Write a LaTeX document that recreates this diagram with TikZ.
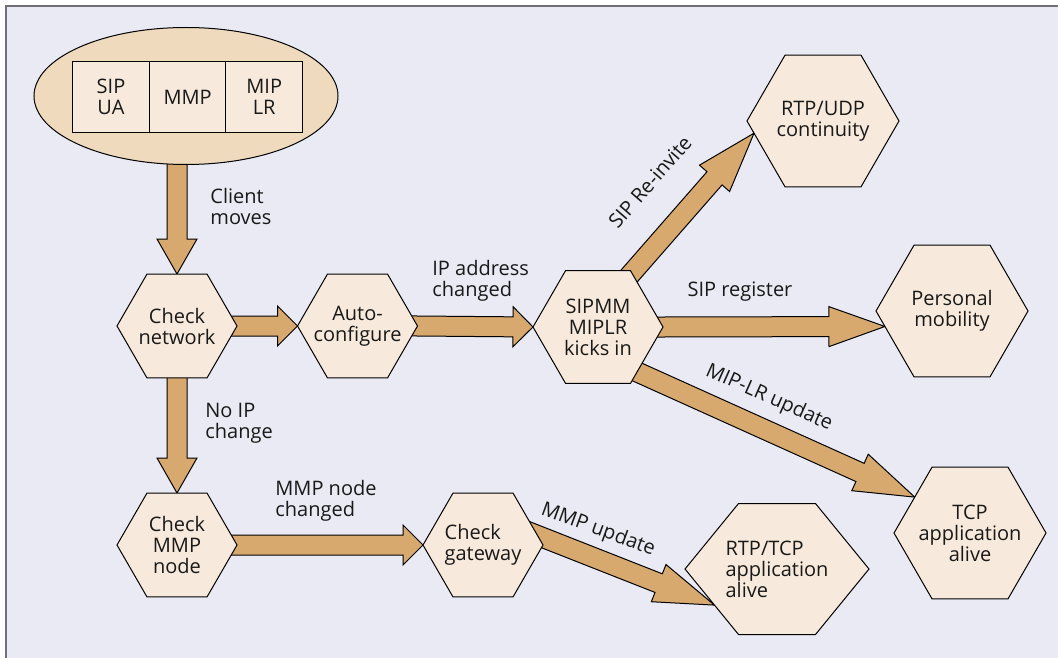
\documentclass[tikz,border=0pt]{standalone}
\usepackage{fontspec}
\setmainfont{Open Sans}
\usepackage{tikz}
\usetikzlibrary{shapes,shapes.geometric,shapes.symbols,calc,backgrounds,positioning}

\definecolor{panelbg}{RGB}{233,234,243}
\definecolor{framegray}{RGB}{112,112,118}
\definecolor{arrowtan}{RGB}{215,169,111}
\definecolor{hexfill}{RGB}{247,234,220}
\definecolor{ovalfill}{RGB}{240,218,190}

\tikzset{
	hexnode/.style={signal,signal to=east and west,signal pointer angle=120,draw=black,line width=0.5pt,fill=hexfill,inner xsep=-40pt,inner ysep=-30pt,outer sep=0pt,align=center},
	hexS/.style={minimum width=60pt,minimum height=51.96pt},
	hexM/.style={minimum width=65pt,minimum height=56.3pt},
	hexL/.style={minimum width=76pt,minimum height=65.8pt},
	cellnode/.style={rectangle,draw=black,line width=0.5pt,fill=hexfill,minimum width=38.3pt,minimum height=35pt,inner sep=0pt,outer sep=0pt,align=center},
	arrowbody/.style={draw=black,line width=0.5pt,fill=arrowtan,line join=miter},
	lbl/.style={inner sep=0pt,align=left}
}

\newcommand{\fatarrow}[3][10pt]{%
	\coordinate (ba-s) at ($(#2)!-6pt!(#3)$);
	\coordinate (ba-e) at (#3);
	\coordinate (ba-h) at ($(ba-e)!#1!(ba-s)$);
	\draw[arrowbody] ($(ba-s)!5pt!90:(ba-e)$) -- ($(ba-h)!5pt!-90:(ba-s)$) -- ($(ba-h)!10pt!-90:(ba-s)$) -- (ba-e)
		-- ($(ba-h)!10pt!90:(ba-s)$) -- ($(ba-h)!5pt!90:(ba-s)$) -- ($(ba-s)!5pt!-90:(ba-e)$) -- cycle;
}

\begin{document}
\begin{tikzpicture}[x=0.5pt,y=-0.5pt,font=\fontsize{10}{10.5}\selectfont,text=black!90]
		\useasboundingbox (0,0) rectangle (1058,658);
		\begin{pgfonlayer}{background}
			\fill[panelbg] (6,6) rectangle (1058,658);
			\draw[framegray,line width=1pt] (6,658) -- (6,6) -- (1058,6);
		\end{pgfonlayer}

		\node[ellipse,draw=black,line width=0.5pt,fill=ovalfill,minimum width=152pt,minimum height=68.5pt] (ue) at (186,96) {};
		\node[cellnode] (sipua) at (111,97) {SIP\\UA};
		\node[cellnode,right=0pt of sipua] (mmpcell) {MMP};
		\node[cellnode,right=0pt of mmpcell] (miplr) {MIP\\LR};

		\node[hexnode,hexS] (chknet) at (177,326) {Check\\network};
		\node[hexnode,hexS] (autocfg) at (357.5,326) {Auto-\\configure};
		\node[hexnode,hexM] (sipmm) at (598,327) {SIPMM\\MIPLR\\kicks in};
		\node[hexnode,hexL] (rtpudp) at (823,121) {RTP/UDP\\continuity};
		\node[hexnode,hexL] (personal) at (952,311) {Personal\\mobility};
		\node[hexnode,hexL] (tcpalive) at (970,533) {TCP\\application\\alive};
		\node[hexnode,hexS] (chkmmp) at (177,545) {Check\\MMP\\node};
		\node[hexnode,hexS,align=left] (chkgw) at (483,545) {Check\\gateway};
		\node[hexnode,minimum width=92pt,minimum height=65.5pt,signal pointer angle=101.5,align=left] (rtptcp) at (777,569) {RTP/TCP\\application\\alive};

		\coordinate (uefoot) at (chknet.north |- ue.south);
		\begin{pgfonlayer}{background}
			\fatarrow[17.5pt]{uefoot}{chknet.north}
			\fatarrow{chknet.east}{autocfg.west}
			\fatarrow{autocfg.east}{sipmm.west}
			\fatarrow[17.5pt]{chknet.south}{chkmmp.north}
			\fatarrow{chkmmp.east}{chkgw.west}
			\fatarrow[30pt]{sipmm.58}{rtpudp.190}
			\fatarrow[28pt]{sipmm.east}{personal.193}
			\fatarrow[30pt]{sipmm.-49}{tcpalive.147}
			\fatarrow[30pt]{chkgw.10}{rtptcp.210}
		\end{pgfonlayer}

		\node[lbl,anchor=west] (lclient) at (210,206) {Client\\moves};
		\node[lbl,anchor=west] (lnoip) at (205,423) {No IP\\change};
		\node[lbl,anchor=west] (lipchg) at (432,281) {IP address\\changed};
		\node[lbl,anchor=west] (lmmpchg) at (275,501) {MMP node\\changed};
		\node[lbl] (lsipreg) at (740,292) {SIP register};
		\node[lbl,rotate=49] (lreinv) at (650,182) {SIP Re-invite};
		\node[lbl,rotate=-24] (lmiplr) at (769,398) {MIP-LR update};
		\node[lbl,rotate=-20] (lmmpupd) at (598,530) {MMP update};
\end{tikzpicture}
\end{document}
